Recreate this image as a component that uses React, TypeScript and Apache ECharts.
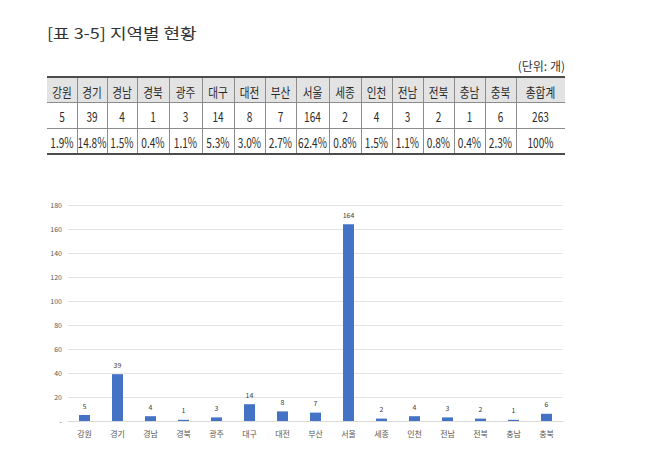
import React, { useEffect, useRef } from "react";
import * as echarts from "echarts";

const regions = ["강원", "경기", "경남", "경북", "광주", "대구", "대전", "부산", "서울", "세종", "인천", "전남", "전북", "충남", "충북"];
const counts = [5, 39, 4, 1, 3, 14, 8, 7, 164, 2, 4, 3, 2, 1, 6];
const shares = ["1.9%", "14.8%", "1.5%", "0.4%", "1.1%", "5.3%", "3.0%", "2.7%", "62.4%", "0.8%", "1.5%", "1.1%", "0.8%", "0.4%", "2.3%"];
const totalHeader = "총합계";
const totalCount = 263;
const totalShare = "100%";
const titleText = "[표 3-5] 지역별 현황";
const unitText = "(단위: 개)";

const FONT = '"Noto Sans CJK KR", "Noto Sans", sans-serif';

function buildTable(): any[] {
  const colX = [47, 77, 107, 137, 169, 202, 234, 265, 296, 329, 361, 392, 423, 454, 485, 516, 565];
  const rowY = [77, 102, 128, 154];
  const headers = [...regions, totalHeader];
  const row2 = [...counts.map(String), String(totalCount)];
  const row3 = [...shares, totalShare];
  const els: any[] = [];
  els.push({
    type: "rect",
    shape: { x: colX[0], y: rowY[0], width: colX[colX.length - 1] - colX[0], height: rowY[1] - rowY[0] },
    style: { fill: "#e3e3e3" },
    silent: true,
  });
  for (let i = 1; i < colX.length - 1; i++) {
    els.push({
      type: "line",
      shape: { x1: colX[i] + 0.5, y1: rowY[0], x2: colX[i] + 0.5, y2: rowY[3] },
      style: { stroke: "#8c8c8c", lineWidth: 1 },
      silent: true,
    });
  }
  [rowY[1], rowY[2]].forEach((y) => {
    els.push({
      type: "line",
      shape: { x1: colX[0], y1: y + 0.5, x2: colX[colX.length - 1], y2: y + 0.5 },
      style: { stroke: "#8c8c8c", lineWidth: 1 },
      silent: true,
    });
  });
  [rowY[0], rowY[3]].forEach((y) => {
    els.push({
      type: "line",
      shape: { x1: colX[0], y1: y, x2: colX[colX.length - 1], y2: y },
      style: { stroke: "#4d4d4d", lineWidth: 2 },
      silent: true,
    });
  });
  const rows = [headers, row2, row3];
  rows.forEach((row, r) => {
    const cy = (rowY[r] + rowY[r + 1]) / 2 + 1;
    row.forEach((t, c) => {
      const cx = (colX[c] + colX[c + 1]) / 2;
      els.push({
        type: "text",
        x: cx,
        y: cy,
        scaleX: r === 0 ? 0.82 : 0.72,
        style: {
          text: t,
          x: 0,
          y: 0,
          align: "center",
          verticalAlign: "middle",
          fill: "#2b2b2b",
          fontSize: r === 0 ? 13 : 14,
          fontFamily: FONT,
        },
        silent: true,
      });
    });
  });
  return els;
}

export default function App() {
  const ref = useRef<HTMLDivElement>(null);
  useEffect(() => {
    if (!ref.current) return;
    const chart = echarts.init(ref.current, null, { renderer: "svg" });
    chart.setOption({
      animation: false,
      backgroundColor: "#ffffff",
      graphic: [
        {
          type: "text",
          x: 47,
          y: 33,
          scaleX: 1.2,
          style: { text: titleText, x: 0, y: 0, verticalAlign: "middle", fill: "#333333", fontSize: 15, fontFamily: FONT },
          silent: true,
        },
        {
          type: "text",
          x: 565,
          y: 65,
          style: { text: unitText, x: 0, y: 0, align: "right", verticalAlign: "middle", fill: "#333333", fontSize: 12, fontFamily: FONT },
          silent: true,
        },
        ...buildTable(),
      ],
      grid: { left: 68, right: 107, top: 205, bottom: 35, containLabel: false },
      xAxis: {
        type: "category",
        data: regions,
        axisLine: { show: true, lineStyle: { color: "#d9d9d9", width: 1 } },
        axisTick: { show: false },
        axisLabel: { color: "#595959", fontSize: 8, fontFamily: FONT, margin: 8, interval: 0 },
      },
      yAxis: {
        type: "value",
        min: 0,
        max: 180,
        interval: 20,
        axisLine: { show: false },
        axisTick: { show: false },
        splitLine: { lineStyle: { color: "#e3e3e3", width: 1 } },
        axisLabel: {
          color: "#595959",
          fontSize: 7,
          fontFamily: FONT,
          margin: 6,
          formatter: (v: number) => (v === 0 ? "-" : String(v)),
        },
      },
      series: [
        {
          type: "bar",
          data: counts,
          barWidth: 11,
          itemStyle: { color: "#4472c4" },
          label: { show: true, position: "top", color: "#404040", fontSize: 7, fontFamily: FONT, distance: 6 },
        },
      ],
    });
    return () => chart.dispose();
  }, []);
  return <div ref={ref} style={{ position: "fixed", left: 0, top: 0, width: 670, height: 456 }} />;
}
